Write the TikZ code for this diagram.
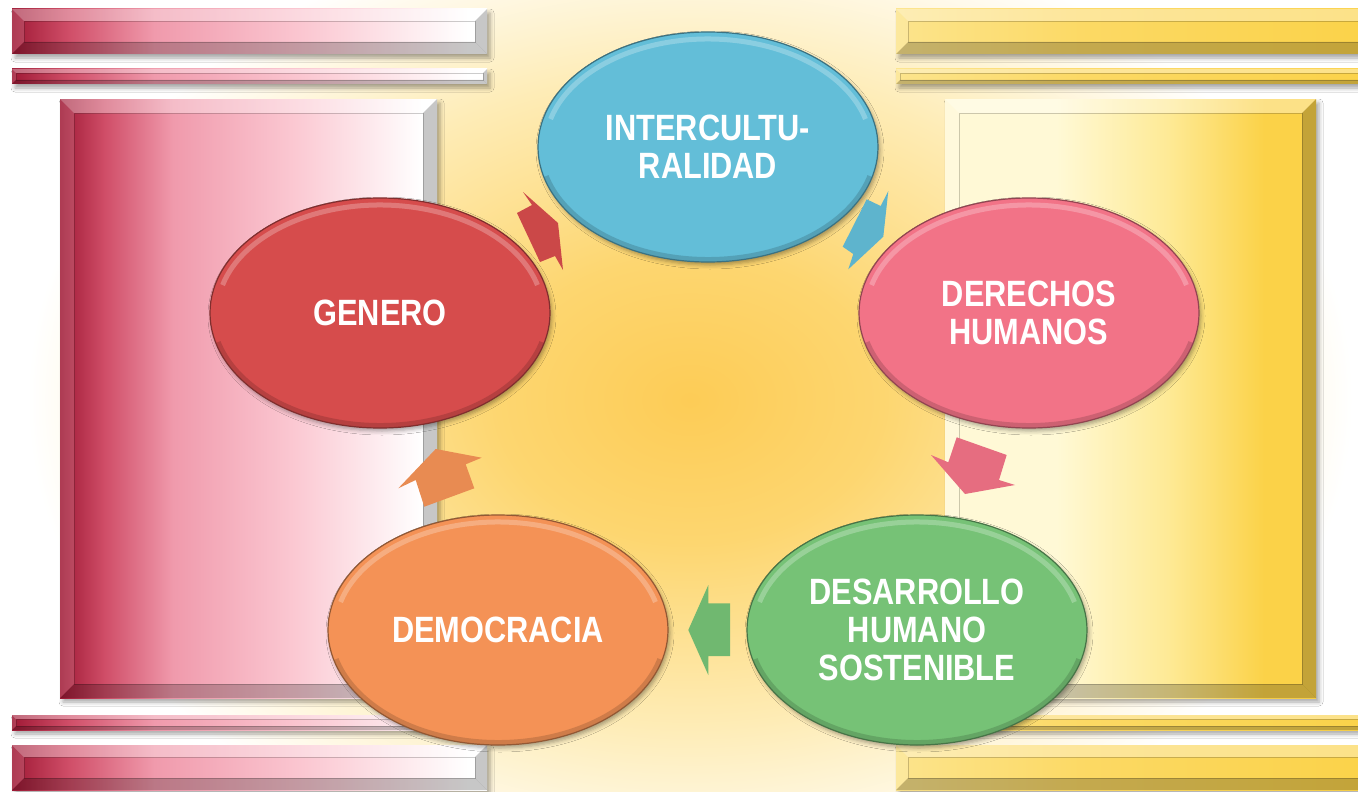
\documentclass[tikz,border=0pt]{standalone}
\usepackage{fontspec}
\newfontfamily\labelfont[FakeStretch=0.84]{Liberation Sans Bold}
\usetikzlibrary{shapes.geometric,calc,shadows.blur}

\definecolor{glowcore}{RGB}{253,204,86}
\definecolor{glowmid}{RGB}{253,214,112}
\definecolor{glowcream}{RGB}{254,236,182}
\definecolor{pillarred}{RGB}{160,26,54}
\definecolor{pillarred2}{RGB}{208,78,104}
\definecolor{pillarpink}{RGB}{240,154,172}
\definecolor{pillarpale}{RGB}{251,200,210}
\definecolor{goldpale}{RGB}{255,249,214}
\definecolor{goldmid}{RGB}{254,234,150}
\definecolor{goldbar}{RGB}{251,210,72}
\definecolor{goldbarlight}{RGB}{252,228,140}
\definecolor{intblue}{RGB}{99,190,216}
\definecolor{derpink}{RGB}{242,115,135}
\definecolor{desgreen}{RGB}{118,194,118}
\definecolor{demorange}{RGB}{244,146,86}
\definecolor{genred}{RGB}{214,76,76}

\pgfdeclareradialshading{glow}{\pgfpoint{0bp}{0bp}}{color(0bp)=(glowcore); color(7bp)=(glowmid); color(16bp)=(glowcream); color(24bp)=(white); color(50bp)=(white)}
\pgfdeclarehorizontalshading{redfade}{100bp}{color(0bp)=(pillarred); color(25bp)=(pillarred); color(31bp)=(pillarred2); color(40bp)=(pillarpink); color(56bp)=(pillarpale); color(73bp)=(white); color(100bp)=(white)}
\pgfdeclarehorizontalshading{goldfade}{100bp}{color(0bp)=(goldpale); color(25bp)=(goldpale); color(40bp)=(goldpale); color(55bp)=(goldmid); color(68bp)=(goldbar); color(100bp)=(goldbar)}
\pgfdeclarehorizontalshading{goldrailfade}{100bp}{color(0bp)=(goldbarlight); color(25bp)=(goldbarlight); color(45bp)=(goldbar!85!white); color(75bp)=(goldbar); color(100bp)=(goldbar)}

\tikzset{
  redpillar/.style={shading=redfade},
  goldpillar/.style={shading=goldfade},
  goldrail/.style={shading=goldrailfade},
  cyclenode/.style={ellipse, minimum width=340pt, minimum height=230pt, inner sep=0pt,
    fill=#1, draw=#1!60!black, line width=1.2pt, text=white, align=center,
    font=\labelfont\fontsize{36.6}{38}\selectfont,
    blur shadow={shadow xshift=2pt, shadow yshift=-3pt, shadow opacity=35, shadow blur radius=4pt},
    path picture={\draw[white, opacity=.25, line width=5pt]
      ($(path picture bounding box.center)+(195:163 and 108)$)
      arc[start angle=195, end angle=345, x radius=163, y radius=108];
      \draw[black, opacity=.15, line width=6pt]
      ($(path picture bounding box.center)+(15:168 and 113)$)
      arc[start angle=15, end angle=165, x radius=168, y radius=113];}},
  cyclearrow/.style={fill=#1}
}

\newcommand\bevelbox[6]{%
  \shade[#1, blur shadow={shadow xshift=3pt, shadow yshift=-4pt, shadow opacity=35, shadow blur radius=4pt}] (#2,#3) rectangle (#4,#5);
  \fill[white, opacity=.35] (#2,#3) -- (#4,#3) -- (#4-#6,#3+#6) -- (#2+#6,#3+#6) -- cycle;
  \fill[white, opacity=.15] (#2,#3) -- (#2+#6,#3+#6) -- (#2+#6,#5-#6) -- (#2,#5) -- cycle;
  \fill[black, opacity=.22] (#2,#5) -- (#4,#5) -- (#4-#6,#5-#6) -- (#2+#6,#5-#6) -- cycle;
  \fill[black, opacity=.22] (#4,#3) -- (#4,#5) -- (#4-#6,#5-#6) -- (#4-#6,#3+#6) -- cycle;
  \draw[black, opacity=.2, line width=.6pt] (#2+#6,#3+#6) rectangle (#4-#6,#5-#6);
}

\begin{document}
\begin{tikzpicture}[x=1pt, y=-1pt]
  \useasboundingbox (0,0) rectangle (1358,792);
  \clip (0,0) rectangle (1358,792);
  \shade[shading=glow] (0,-110) rectangle (1380,910);

  \bevelbox{redpillar}{12}{9}{487}{54}{12}
  \bevelbox{redpillar}{12}{69}{487}{84}{4}
  \bevelbox{redpillar}{60}{99}{437}{698}{14}
  \bevelbox{redpillar}{12}{715}{487}{730}{4}
  \bevelbox{redpillar}{12}{745}{487}{790}{12}

  \bevelbox{goldrail}{896}{9}{1380}{54}{12}
  \bevelbox{goldrail}{896}{69}{1380}{84}{4}
  \bevelbox{goldpillar}{945}{99}{1316}{698}{14}
  \bevelbox{goldrail}{896}{715}{1380}{730}{4}
  \bevelbox{goldrail}{896}{745}{1380}{790}{12}

  \node[cyclenode=intblue] (int) at (708,147) {INTERCULTU-\\RALIDAD};
  \node[cyclenode=derpink] (der) at (1029,313) {DERECHOS\\HUMANOS};
  \node[cyclenode=desgreen] (des) at (917,630) {DESARROLLO\\HUMANO\\SOSTENIBLE};
  \node[cyclenode=demorange] (dem) at (498,630) {DEMOCRACIA};
  \node[cyclenode=genred] (gen) at (380,313) {GENERO};

  \begin{scope}[shift={($(gen)!.5!(int)$)}]
    \fill[cyclearrow=genred!95!black] (14,-7) -- (-21,-38) -- (-12,-25) -- (-27,-17)
      -- (-4,32) -- (11,26) -- (19,40) -- cycle;
  \end{scope}
  \begin{scope}[shift={($(int)!.5!(der)$)}]
    \fill[cyclearrow=intblue!95!black] (14.8,6.7) -- (19.8,-39) -- (12.2,-24) -- (-1.8,-30.7)
      -- (-25.8,16.7) -- (-15.2,24) -- (-20.2,39.3) -- cycle;
  \end{scope}
  \begin{scope}[shift={($(der)!.5!(des)$)}]
    \fill[cyclearrow=derpink!95!black] (-8,22.5) -- (-42,-16.5) -- (-24.7,-9.2) -- (-16.3,-34.2)
      -- (33.7,-16.5) -- (26,8.5) -- (42,13.5) -- cycle;
  \end{scope}
  \begin{scope}[shift={($(des)!.5!(dem)$)}]
    \fill[cyclearrow=desgreen!95!black] (-19.2,0) -- (0.8,-45) -- (0.8,-26.7) -- (22.5,-26.7)
      -- (22.5,26) -- (0.8,26) -- (0.8,45) -- cycle;
  \end{scope}
  \begin{scope}[shift={($(dem)!.5!(gen)$)}]
    \fill[cyclearrow=demorange!95!black] (-3.3,-22.5) -- (42.7,-13.8) -- (26.7,-7.2) -- (35.3,16.8)
      -- (-14.7,35.2) -- (-23.3,8.5) -- (-40.7,16.8) -- cycle;
  \end{scope}
\end{tikzpicture}
\end{document}
